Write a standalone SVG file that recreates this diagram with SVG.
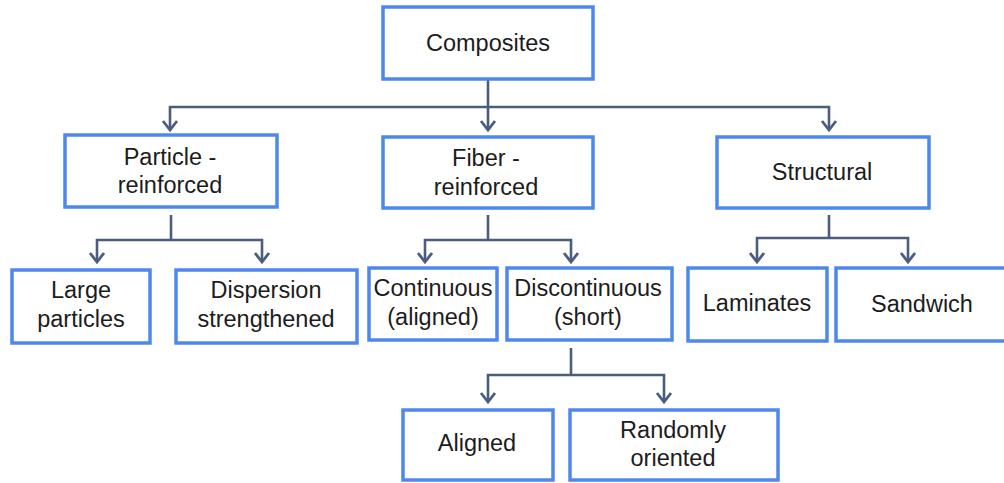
<svg xmlns="http://www.w3.org/2000/svg" width="1004" height="483" viewBox="0 0 1004 483">
<style>
.box{fill:#ffffff;stroke:#4f88ec;stroke-width:3.5}
.t{font-family:"Liberation Sans",Arial,sans-serif;font-size:23.5px;fill:#1c1c1c;text-anchor:middle}
.c{fill:none;stroke:#4b5d7e;stroke-width:2.6}
</style>
<defs>
<marker id="arr" markerUnits="userSpaceOnUse" markerWidth="20" markerHeight="20" viewBox="-10 -10 20 20" refX="0" refY="0" orient="auto">
<path d="M-9,-7 L0,0 L-9,7" fill="none" stroke="#4b5d7e" stroke-width="2.8"/>
</marker>
</defs>
<rect width="1004" height="483" fill="#ffffff"/>
<g id="connectors">
<path class="c" d="M488,80 V130" marker-end="url(#arr)"/>
<path class="c" d="M488,107 H170 V130" marker-end="url(#arr)"/>
<path class="c" d="M488,107 H829 V130" marker-end="url(#arr)"/>
<path class="c" d="M171,215 V240"/>
<path class="c" d="M171,240 H97 V262" marker-end="url(#arr)"/>
<path class="c" d="M171,240 H262 V262" marker-end="url(#arr)"/>
<path class="c" d="M488,215 V240"/>
<path class="c" d="M488,240 H425 V262" marker-end="url(#arr)"/>
<path class="c" d="M488,240 H571 V262" marker-end="url(#arr)"/>
<path class="c" d="M829,215 V238"/>
<path class="c" d="M829,238 H757 V262" marker-end="url(#arr)"/>
<path class="c" d="M829,238 H908 V262" marker-end="url(#arr)"/>
<path class="c" d="M571,348 V375"/>
<path class="c" d="M571,375 H488 V402" marker-end="url(#arr)"/>
<path class="c" d="M571,375 H664 V402" marker-end="url(#arr)"/>
</g>
<g id="composites">
<rect class="box" x="383" y="7" width="210" height="72"/>
<text class="t" x="488" y="51">Composites</text>
</g>
<g id="particle">
<rect class="box" x="65" y="135" width="212" height="72"/>
<text class="t" x="170" y="165">Particle -</text>
<text class="t" x="170" y="193">reinforced</text>
</g>
<g id="fiber">
<rect class="box" x="383" y="137" width="210" height="71"/>
<text class="t" x="486" y="166">Fiber -</text>
<text class="t" x="486" y="195">reinforced</text>
</g>
<g id="structural">
<rect class="box" x="717" y="137" width="212" height="71"/>
<text class="t" x="822" y="180">Structural</text>
</g>
<g id="large">
<rect class="box" x="12" y="270" width="138" height="73"/>
<text class="t" x="81" y="298">Large</text>
<text class="t" x="81" y="327">particles</text>
</g>
<g id="dispersion">
<rect class="box" x="176" y="270" width="181" height="73"/>
<text class="t" x="266" y="298">Dispersion</text>
<text class="t" x="266" y="327">strengthened</text>
</g>
<g id="continuous">
<rect class="box" x="369" y="268" width="128" height="72"/>
<text class="t" x="433" y="296">Continuous</text>
<text class="t" x="433" y="325">(aligned)</text>
</g>
<g id="discontinuous">
<rect class="box" x="507" y="268" width="165" height="72"/>
<text class="t" x="588" y="296">Discontinuous</text>
<text class="t" x="588" y="325">(short)</text>
</g>
<g id="laminates">
<rect class="box" x="688" y="268" width="139" height="73"/>
<text class="t" x="757" y="311">Laminates</text>
</g>
<g id="sandwich">
<rect class="box" x="836" y="268" width="174" height="73"/>
<text class="t" x="922" y="312">Sandwich</text>
</g>
<g id="aligned">
<rect class="box" x="403" y="410" width="150" height="70"/>
<text class="t" x="477" y="451">Aligned</text>
</g>
<g id="random">
<rect class="box" x="570" y="410" width="208" height="70"/>
<text class="t" x="673" y="438">Randomly</text>
<text class="t" x="673" y="466">oriented</text>
</g>
</svg>
